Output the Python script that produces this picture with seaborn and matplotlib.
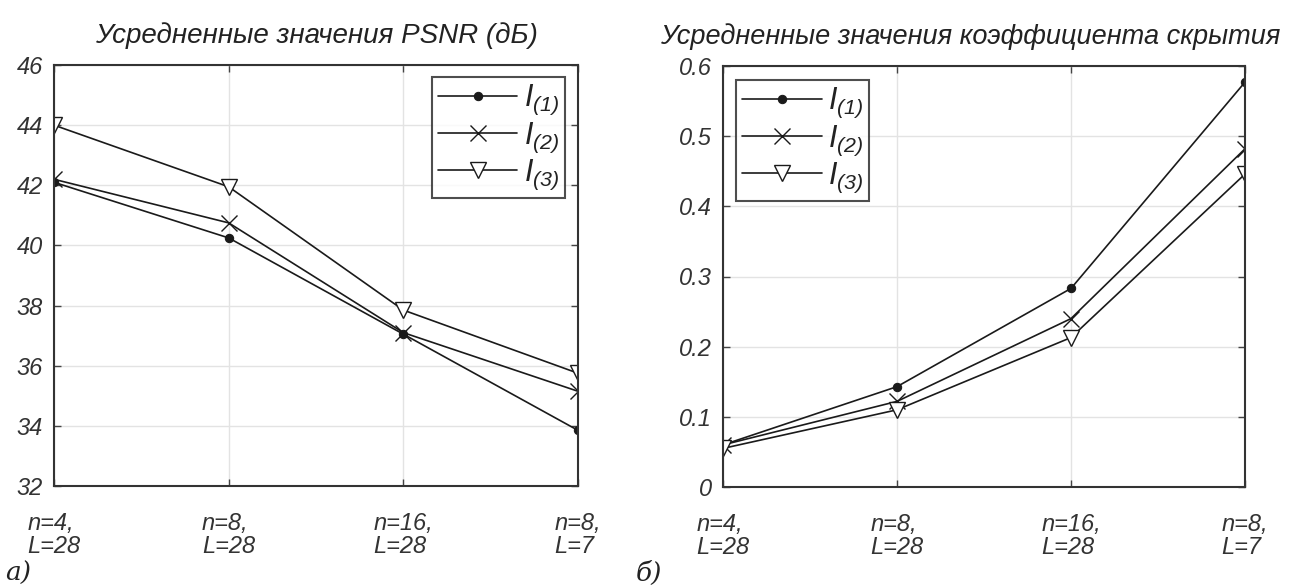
import matplotlib
matplotlib.use("Agg")
import matplotlib.pyplot as plt
import seaborn as sns
import pandas as pd
import numpy as np

# ---- data ----
categories = ["n=4,\nL=28", "n=8,\nL=28", "n=16,\nL=28", "n=8,\nL=7"]
series_names = [r"$I_{(1)}$", r"$I_{(2)}$", r"$I_{(3)}$"]

psnr_I1 = [42.1, 40.25, 37.05, 33.85]
psnr_I2 = [42.2, 40.75, 37.1, 35.15]
psnr_I3 = [44.0, 41.95, 37.85, 35.75]

hide_I1 = [0.060, 0.143, 0.283, 0.577]
hide_I2 = [0.060, 0.122, 0.240, 0.482]
hide_I3 = [0.055, 0.110, 0.213, 0.446]

psnr_ticks = [32, 34, 36, 38, 40, 42, 44, 46]
hide_ticks = [0, 0.1, 0.2, 0.3, 0.4, 0.5, 0.6]
hide_ticklabels = ["0", "0.1", "0.2", "0.3", "0.4", "0.5", "0.6"]

title_left = "Усредненные значения PSNR (дБ)"
title_right = "Усредненные значения коэффициента скрытия"

sns.set_theme(style="white")
plt.rcParams["font.family"] = ["Liberation Sans", "DejaVu Sans"]
plt.rcParams["mathtext.fontset"] = "custom"
plt.rcParams["mathtext.it"] = "Liberation Sans:italic"
plt.rcParams["mathtext.rm"] = "Liberation Sans:italic"
plt.rcParams["mathtext.default"] = "it"

TXT = "#333333"
LINE = "#1a1a1a"

fig = plt.figure(figsize=(12.96, 5.87), dpi=100)
ax1 = fig.add_axes([54/1296, 1-486/587, (578-54)/1296, (486-65)/587])
ax2 = fig.add_axes([723/1296, 1-487/587, (1245-723)/1296, (487-66)/587])

styles = [
    dict(marker="o", markersize=6, markerfacecolor=LINE, markeredgecolor=LINE),
    dict(marker="x", markersize=12, markeredgewidth=1.0, markeredgecolor=LINE),
    dict(marker="v", markersize=12, markerfacecolor="white", markeredgewidth=1.0, markeredgecolor=LINE),
]

def draw(ax, series, yticks, yticklabels, ylim, title, title_x, title_size,
         legend_loc, bbox):
    xpos = np.arange(len(categories))
    for name, vals, st in zip(series_names, series, styles):
        df = pd.DataFrame({"x": xpos, "y": vals})
        sns.lineplot(data=df, x="x", y="y", ax=ax, color=LINE, linewidth=1.2,
                     label=name, **st)
    ax.set_xlim(0, len(categories) - 1)
    ax.set_ylim(*ylim)
    ax.set_xticks(xpos)
    ax.set_xticklabels(categories, fontsize=17, color=TXT, style="italic",
                       multialignment="left", linespacing=1.0)
    ax.set_yticks(yticks)
    ax.set_yticklabels(yticklabels, fontsize=17, color=TXT, style="italic")
    ax.set_xlabel("")
    ax.set_ylabel("")
    ax.grid(True, color="#e3e3e3", linewidth=1.0)
    ax.tick_params(axis="both", direction="in", length=5, width=1, color="#444444",
                   top=True, right=True, bottom=True, left=True)
    ax.tick_params(axis="x", pad=19)
    ax.tick_params(axis="y", pad=8)
    for sp in ax.spines.values():
        sp.set_color("#333333")
        sp.set_linewidth(1.5)
        sp.set_visible(True)
    ax.set_title(title, fontsize=title_size, style="italic", color="#222222",
                 pad=16, x=title_x)
    leg = ax.legend(loc=legend_loc, bbox_to_anchor=bbox, fontsize=22, frameon=True,
                    fancybox=False, edgecolor="#222222", handlelength=2.6,
                    borderpad=0.2, labelspacing=0.1, handletextpad=0.2,
                    borderaxespad=0.0)
    leg.get_frame().set_linewidth(1.5)
    for t in leg.get_texts():
        t.set_color("#222222")

draw(ax1, [psnr_I1, psnr_I2, psnr_I3], psnr_ticks, [str(t) for t in psnr_ticks],
     (32, 46), title_left, 0.5, 20, "upper right", (1 - 13/524, 1 - 12/421))
draw(ax2, [hide_I1, hide_I2, hide_I3], hide_ticks, hide_ticklabels,
     (0, 0.6), title_right, (970-723)/522, 19.5, "upper left",
     ((736-723)/522, 1 - 14/421))

fig.text(5/1296, 1-573/587, "а)", fontsize=19, style="italic", family="DejaVu Serif",
         color="#222222", va="center", ha="left")
fig.text(636/1296, 1-573/587, "б)", fontsize=19, style="italic", family="DejaVu Serif",
         color="#222222", va="center", ha="left")

fig.savefig("out.png", dpi=100)
